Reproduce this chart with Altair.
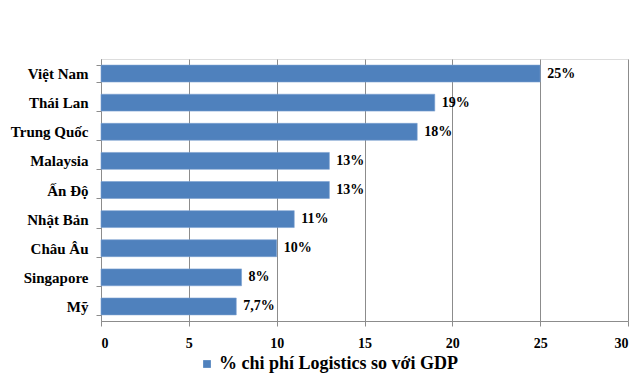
import altair as alt
import pandas as pd

countries = ["Việt Nam", "Thái Lan", "Trung Quốc", "Malaysia", "Ấn Độ",
             "Nhật Bản", "Châu Âu", "Singapore", "Mỹ"]
values = [25, 19, 18, 13, 13, 11, 10, 8, 7.7]
labels = ["25%", "19%", "18%", "13%", "13%", "11%", "10%", "8%", "7,7%"]
series = "% chi phí Logistics so với GDP"

df = pd.DataFrame({"country": countries, "value": values, "label": labels,
                   "series": [series] * len(countries)})

FONT = "'Liberation Serif', 'DejaVu Serif', serif"
GRAY = "#8c8c8c"

y_enc = alt.Y("country:N", sort=countries, title=None,
              scale=alt.Scale(paddingInner=0.42, paddingOuter=0.21),
              axis=alt.Axis(tickBand="extent", tickSize=5, tickColor=GRAY,
                            domainColor=GRAY, labelFont=FONT, labelFontSize=15,
                            labelFontWeight="bold", labelColor="black",
                            labelPadding=8, grid=False, labelLimit=200))

x_enc = alt.X("value:Q", title=None,
              scale=alt.Scale(domain=[0, 30], nice=False),
              axis=alt.Axis(values=[0, 5, 10, 15, 20, 25, 30], tickSize=5,
                            tickColor=GRAY, domainColor=GRAY, gridColor=GRAY,
                            gridOpacity=1, labelFont=FONT, labelFontSize=14,
                            labelFontWeight="bold", labelColor="black",
                            labelPadding=10))

bars = alt.Chart(df).mark_bar(stroke="#7a9fd0", strokeWidth=0.6).encode(
    x=x_enc,
    y=y_enc,
    color=alt.Color("series:N", title=None,
                    scale=alt.Scale(range=["#4f81bd"]),
                    legend=alt.Legend(orient="none", legendX=97, legendY=296,
                                      symbolType="square", symbolSize=60,
                                      symbolStrokeWidth=0, labelOffset=3,
                                      labelFont=FONT, labelFontSize=18,
                                      labelFontWeight="bold",
                                      labelColor="black", labelLimit=400)),
)

text = alt.Chart(df).mark_text(align="left", dx=7, font=FONT, fontSize=14,
                               fontWeight="bold", color="black").encode(
    x="value:Q",
    y=alt.Y("country:N", sort=countries),
    text="label:N",
)

chart = alt.layer(bars, text).properties(
    width=527, height=262,
    autosize=alt.AutoSizeParams(type="none"),
    padding={"left": 93, "top": 51, "right": 4, "bottom": 55},
).configure_view(stroke=None).configure(background="white")

chart.save("out.html", embed_options={"renderer": "svg", "actions": False})
